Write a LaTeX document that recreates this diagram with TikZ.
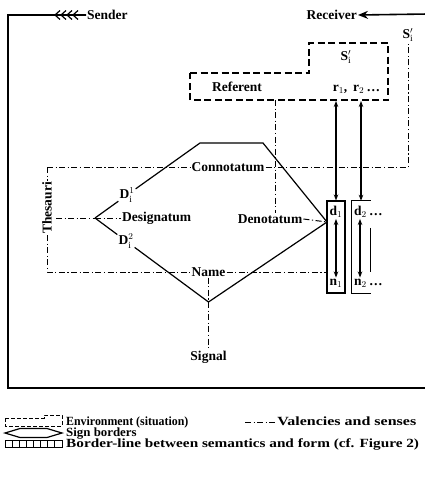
\documentclass[tikz,border=0pt]{standalone}
\usepackage{fontspec}
\setmainfont{Liberation Serif}
\usetikzlibrary{arrows.meta}
\begin{document}
\begin{tikzpicture}[x=1pt,y=-1pt,
 font=\fontsize{13.5}{15}\selectfont\bfseries,
 lab/.style={inner sep=1pt},
 leg/.style={inner sep=0pt, anchor=west, font=\fontsize{12.5}{14}\selectfont\bfseries, text height=8pt, text depth=2pt},
 env/.style={line width=1.1pt, dash pattern=on 7pt off 3.5pt},
 val/.style={line width=1pt, dash pattern=on 6pt off 2.5pt on 1.2pt off 2.5pt},
 sign/.style={line width=1.2pt},
 outer/.style={line width=1.6pt},
 dbl/.style={line width=1.2pt, {Stealth[length=6pt,width=4.5pt]}-{Stealth[length=6pt,width=4.5pt]}},
]
\useasboundingbox (0,0) rectangle (425,479);
% outer communication loop
\node[lab, anchor=west] (sender) at (86,15) {Sender};
\node[lab, anchor=east] (receiver) at (358,15) {Receiver};
\coordinate (fTL) at (8,15);
\coordinate (fBL) at (8,388);
\coordinate (fBR) at (428,388);
\coordinate (fTR) at (428,14);
\draw[outer, -{Stealth[length=10pt,width=8pt]}] (sender.west) -- (fTL) -- (fBL) -- (fBR) -- (fTR) -- (receiver.east);
\foreach \x in {55,61,67,73} \draw[line width=1.2pt] (\x+5,10.5) -- (\x,15) -- (\x+5,19.5);
% environment box
\draw[env] (190,73) -- (309,73) -- (309,43) -- (388,43) -- (388,100) -- (190,100) -- cycle;
\node[lab] (Si) at (346,57) {S$'_{\mathrm i}$};
\node[lab] (referent) at (237,87) {Referent};
\node[lab] (r1) at (340,89) {r$_1$,};
\node[lab, anchor=west] (r2) at (352,89) {r$_2$\,\dots};
% sign border
\coordinate (vL) at (95,218);
\coordinate (vTL) at (200,143);
\coordinate (vTR) at (263,143);
\coordinate (vR) at (327,222);
\coordinate (vB) at (208.5,302);
\node[lab] (D1) at (127,195) {D$^1_{\mathrm i}$};
\node[lab] (D2) at (126,241) {D$^2_{\mathrm i}$};
\draw[sign] (vL) -- (D1);
\draw[sign] (D1) -- (vTL) -- (vTR) -- (vR) -- (vB) -- (D2);
\draw[sign] (D2) -- (vL);
% labels
\node[lab] (conn) at (228,167) {Connotatum};
\node[lab, anchor=west] (desig) at (121,218) {Designatum};
\node[lab] (denot) at (270,219) {Denotatum};
\node[lab] (name) at (208.5,272) {Name};
\node[lab] (signal) at (208.5,357) {Signal};
\node[lab, rotate=90] (thes) at (47,208) {Thesauri};
\node[lab] (Sp) at (408,35) {S$'_{\mathrm i}$};
% boxes
\node[draw, line width=1.1pt, minimum width=18pt, minimum height=92pt, inner sep=0pt] (box1) at (336,247) {};
\node[minimum width=19pt, minimum height=92pt, inner sep=0pt] (box2) at (361,247) {};
\draw[line width=1.1pt] (box2.north east) -- (box2.north west) -- (box2.south west) -- (box2.south east);
\draw[line width=1.1pt] ([yshift=-27pt]box2.north east) -- ([yshift=21pt]box2.south east);
\node[lab] (d1) at (336,212) {d$_1$};
\node[lab] (n1) at (336,283) {n$_1$};
\node[lab, anchor=west] (d2) at (353,212) {d$_2$\,\dots};
\node[lab, anchor=west] (n2) at (353,283) {n$_2$\,\dots};
\draw[dbl] (d1.south) -- (n1.north);
\draw[dbl] ([xshift=7pt]d2.south west) -- ([xshift=7pt]n2.north west);
\coordinate (r1b) at (336,101);
\coordinate (r2b) at (361,101);
\draw[dbl] (r1b) -- (box1.north);
\draw[dbl] (r2b) -- (box2.north);
% valencies
\coordinate (tTL) at (47,167);
\coordinate (tBL) at (47,272);
\coordinate (cR) at (408,167);
\coordinate (thR) at (56,218);
\coordinate (envD) at (275,100);
\draw[val] (tTL) -- (conn.west);
\draw[val] (conn.east) -- (cR) -- (Sp.south);
\draw[val] (tTL) -- (thes.east);
\draw[val] (thes.west) -- (tBL) -- (name.west);
\draw[val] (name.east) -- (box1.west |- name);
\draw[val] (name.south) -- (signal.north);
\draw[val] (thR) -- (vL);
\draw[val] (vL) -- (desig.west);
\draw[val] (denot.east) -- (vR);
\draw[val] (envD) -- (denot.north -| envD);
% legend
\draw[line width=1pt, dash pattern=on 4pt off 2pt] (5,418) -- (44,418) -- (44,415) -- (62,415) -- (62,426) -- (5,426) -- cycle;
\node[leg, xscale=0.95] (l1) at (66,422) {Environment (situation)};
\coordinate (lv) at (245,422);
\node[leg, xscale=1.28] (l2) at (277,422) {Valencies and senses};
\draw[val] (lv) -- (l2.west);
\draw[sign] (5,433) -- (20,428.5) -- (47,428.5) -- (62,433) -- (47,437.5) -- (20,437.5) -- cycle;
\node[leg, xscale=1.03] (l3) at (66,433) {Sign borders};
\draw[line width=1pt] (5,440.5) rectangle (62,447.5);
\foreach \x in {12,19,26,33,40,47,54} \draw[line width=1pt] (\x,440.5) -- (\x,447.5);
\node[leg, xscale=1.22] (l4) at (66,444) {Border-line between semantics and form (cf. Figure 2)};
\end{tikzpicture}
\end{document}
